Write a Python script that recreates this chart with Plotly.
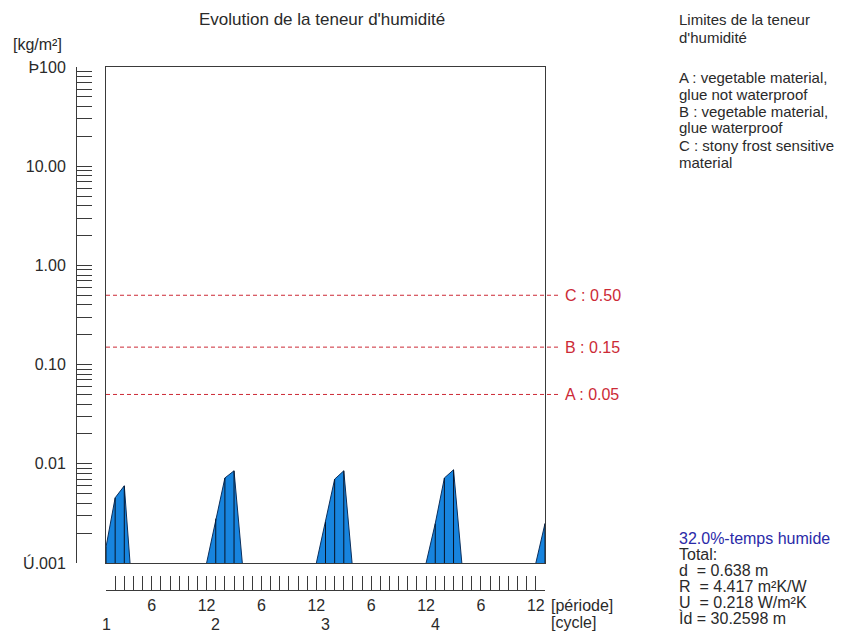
import math
import plotly.graph_objects as go

# ---------------------------------------------------------------- data
PERIODS_PER_CYCLE = 12
N_CYCLES = 4

# moisture content per period [kg/m²]; index 0 = period 1 of cycle 1,
# the last value is period 1 of the next cycle
moisture_cycle1 = [0.00145, 0.00454, 0.0060, 0.00035, 0.0004, 0.0004,
                   0.0004, 0.0004, 0.0004, 0.0004, 0.0004, 0.0010]
moisture_cycle2 = [0.0028, 0.0072, 0.0085, 0.0008, 0.0004, 0.0004,
                   0.0004, 0.0004, 0.0004, 0.0004, 0.0004, 0.0010]
moisture_cycle3 = [0.0026, 0.0070, 0.0085, 0.0008, 0.0004, 0.0004,
                   0.0004, 0.0004, 0.0004, 0.0004, 0.0004, 0.0010]
moisture_cycle4 = [0.0025, 0.0072, 0.0087, 0.0008, 0.0004, 0.0004,
                   0.0004, 0.0004, 0.0004, 0.0004, 0.0004, 0.0010]
moisture_next = [0.0025]

# moisture limits
limit_names = ["A", "B", "C"]
limit_values = [0.05, 0.15, 0.50]

y_tick_decades = [0.001, 0.01, 0.1, 1, 10, 100]
y_tick_labels = ["Ú.001", "0.01", "0.10", "1.00", "10.00", "Þ100"]
period_labels = {6: "6", 12: "12"}
cycle_labels = ["1", "2", "3", "4"]

legend_lines = ["Limites de la teneur", "d'humidité",
                "A : vegetable material,", "glue not waterproof",
                "B : vegetable material,", "glue waterproof",
                "C : stony frost sensitive", "material"]
summary_head = "32.0%-temps humide"
summary_lines = ["Total:", "d  = 0.638 m", "R  = 4.417 m²K/W",
                 "U  = 0.218 W/m²K", "Ìd = 30.2598 m"]

# ---------------------------------------------------------------- layout helpers
W, H = 859, 639
ML, MR, MT, MB = 76, 314, 67, 49
PW, PH = W - ML - MR, H - MT - MB
PLOT_LEFT, PLOT_BOTTOM = 106, 563


def px_x(X):
    return (X - ML) / PW


def px_y(Y):
    return (H - MB - Y) / PH


FONT = "Liberation Sans, Arial, sans-serif"
TXT = "#2a2a2a"
AXC = "#3a3a3a"
RED = "#cc2a36"
BLUE_FILL = "#1784de"

moisture = (moisture_cycle1 + moisture_cycle2 + moisture_cycle3
            + moisture_cycle4 + moisture_next)
x_idx = list(range(len(moisture)))
Y_MIN, Y_MAX = 0.001, 100
N_STEPS = PERIODS_PER_CYCLE * N_CYCLES

fig = go.Figure()

# floor of the filled area
fig.add_trace(go.Scatter(x=x_idx, y=[Y_MIN] * len(x_idx), mode="lines",
                         line=dict(width=0), hoverinfo="skip",
                         showlegend=False))
# moisture content area
fig.add_trace(go.Scatter(x=x_idx, y=moisture, mode="lines", fill="tonexty",
                         fillcolor=BLUE_FILL,
                         line=dict(color="#0c2f5c", width=1),
                         showlegend=False))
# vertical strokes at every wet period
vx, vy = [], []
for k, v in zip(x_idx, moisture):
    if v > Y_MIN:
        vx += [k, k, None]
        vy += [Y_MIN, v, None]
fig.add_trace(go.Scatter(x=vx, y=vy, mode="lines",
                         line=dict(color="#061428", width=1),
                         hoverinfo="skip", showlegend=False))
# helper trace so the detached scale axes get drawn
fig.add_trace(go.Scatter(x=[None], y=[None], xaxis="x2", yaxis="y2",
                         showlegend=False, hoverinfo="skip"))

# y tick values: every 1..9 multiple of each decade
y_vals, y_text = [], []
for d, lab in zip(y_tick_decades, y_tick_labels):
    y_vals.append(d)
    y_text.append(lab)
    if d < Y_MAX:
        for m in range(2, 10):
            y_vals.append(d * m)
            y_text.append("")

x_vals = list(range(N_STEPS + 1))
x_text = [period_labels.get(k % PERIODS_PER_CYCLE + 1, "") for k in x_vals]

frame = dict(showline=True, linecolor=AXC, linewidth=1, mirror=True,
             showgrid=False, zeroline=False, ticks="", showticklabels=False)

fig.update_layout(
    width=W, height=H,
    margin=dict(l=ML, r=MR, t=MT, b=MB, pad=0),
    paper_bgcolor="white", plot_bgcolor="white",
    font=dict(family=FONT, size=16, color=TXT),
    showlegend=False,
    xaxis=dict(domain=[px_x(PLOT_LEFT), 1], range=[0, N_STEPS], **frame),
    yaxis=dict(domain=[px_y(PLOT_BOTTOM), 1], type="log",
               range=[math.log10(Y_MIN), math.log10(Y_MAX)], **frame),
    xaxis2=dict(overlaying="x", anchor="free", position=0, side="bottom",
                range=[0, N_STEPS], showgrid=False, zeroline=False,
                showline=True, linecolor=AXC, linewidth=1,
                ticks="inside", ticklen=14, tickcolor=AXC, tickwidth=1,
                tickmode="array", tickvals=x_vals, ticktext=x_text,
                ticklabelstandoff=1,
                tickfont=dict(family=FONT, size=16, color=TXT)),
    yaxis2=dict(overlaying="y", anchor="free", position=0, side="left",
                type="log", range=[math.log10(Y_MIN), math.log10(Y_MAX)],
                showgrid=False, zeroline=False,
                showline=True, linecolor=AXC, linewidth=1,
                ticks="inside", ticklen=15, tickcolor=AXC, tickwidth=1,
                tickmode="array", tickvals=y_vals, ticktext=y_text,
                ticklabelstandoff=7,
                tickfont=dict(family=FONT, size=16, color=TXT)),
)

# moisture limit lines and their labels
for name, val in zip(limit_names, limit_values):
    fig.add_shape(type="line", xref="paper", yref="y",
                  x0=px_x(PLOT_LEFT), x1=px_x(561), y0=val, y1=val,
                  line=dict(color=RED, width=1, dash="4px,3px"))
    fig.add_annotation(xref="paper", yref="y", x=px_x(563),
                       y=math.log10(val), text=f"{name} : {val:.2f}",
                       showarrow=False, xanchor="left", yanchor="middle",
                       font=dict(family=FONT, size=16, color=RED))


def note(text, X, Y, color=TXT, xanchor="left", xref="paper", size=16):
    fig.add_annotation(xref=xref, yref="paper",
                       x=X if xref != "paper" else px_x(X), y=px_y(Y),
                       text=text, showarrow=False, xanchor=xanchor,
                       yanchor="middle",
                       font=dict(family=FONT, size=size, color=color))


note("Evolution de la teneur d'humidité", 322, 20, xanchor="center", size=17)
note("[kg/m²]", 11, 45)

for i, lab in enumerate(cycle_labels):
    note(lab, i * PERIODS_PER_CYCLE, 624, xanchor="center", xref="x")
note("[période]", 549, 605)
note("[cycle]", 549, 622)

legend_y = [20, 37, 77, 94, 111, 128, 145, 162]
for t, y in zip(legend_lines, legend_y):
    note(t, 677, y, size=15)

note(summary_head, 677, 538, color="#2a2aa8")
for i, t in enumerate(summary_lines):
    note(t, 677, 554 + 16 * i)

fig.write_html("out.html")
